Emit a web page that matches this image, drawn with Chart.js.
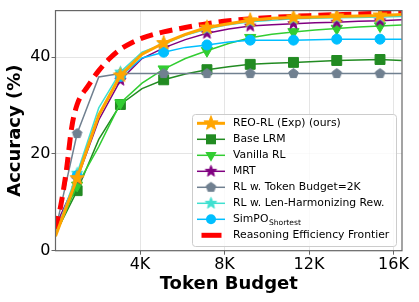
<!DOCTYPE html>
<html><head><meta charset="utf-8">
<script src="https://cdn.jsdelivr.net/npm/chart.js@4/dist/chart.umd.min.js"></script>
<style>html,body{margin:0;padding:0;background:#fff;}#wrap{width:419px;height:302px;}</style>
</head><body><div id="wrap"><canvas id="c" width="419" height="302"></canvas></div>
<script>
// ---- data ----
const budgets = [0,1024,2048,3072,4096,5120,6144,7168,8192,9216,10240,11264,12288,13312,14336,15360,16384];
const reoRL      = [3.0,15.0,28.0,36.2,40.6,42.9,44.7,46.1,46.9,47.6,48.0,48.2,48.3,48.4,48.5,48.6,48.8];
const baseLRM    = [3.5,12.4,23.0,30.2,33.5,35.3,36.5,37.4,38.0,38.5,38.7,38.9,39.1,39.3,39.4,39.5,39.3];
const vanillaRL  = [3.2,13.5,21.5,30.5,34.6,37.5,39.7,41.3,42.8,44.0,44.7,45.2,45.6,45.9,46.2,46.4,46.6];
const mrt        = [5.0,14.8,27.0,35.2,39.7,41.9,43.6,44.9,45.8,46.4,46.7,46.9,47.1,47.2,47.4,47.5,47.7];
const tokenBudget2K = [4.2,24.2,35.9,36.6,36.6,36.6,36.6,36.6,36.6,36.6,36.6,36.6,36.6,36.6,36.6,36.6,36.6];
const lenHarm    = [3.5,16.0,29.5,36.9,41.0,42.7,44.5,45.8,46.7,47.3,47.6,47.9,48.0,48.1,48.2,48.3,48.4];
const simpo      = [3.0,15.5,28.0,36.0,39.8,41.0,42.0,42.5,43.1,43.5,43.5,43.5,43.6,43.7,43.7,43.7,43.7];
const frontierBudgets = [0,256,512,768,1024,1536,2048,2560,3072,3584,4096,5120,6144,7168,8192,10240,12288,14336,16384];
const frontier   = [4.5,9.5,16.5,25.5,30.2,34.0,37.2,39.7,41.6,42.9,43.9,45.2,46.1,46.9,47.5,48.2,48.6,48.9,49.2];
const xTicks = [4000,8000,12000,16000];
const xTickLabels = ['4K','8K','12K','16K'];
const yTicks = [0,20,40];
const yTickLabels = ['0','20','40'];

const FONT = "'DejaVu Sans', sans-serif";

function polyCanvas(R, color, pts) {
  const s = Math.ceil(2*R+3);
  const c = document.createElement('canvas'); c.width = s; c.height = s;
  const g = c.getContext('2d');
  g.translate(s/2, s/2);
  g.beginPath();
  pts.forEach((p,i)=> i? g.lineTo(p[0],p[1]) : g.moveTo(p[0],p[1]));
  g.closePath();
  g.fillStyle = color; g.fill();
  g.strokeStyle = color; g.lineWidth = 1; g.lineJoin='miter'; g.stroke();
  return c;
}
function starCanvas(R, color) {
  const pts = []; const r = R*0.42;
  for (let i=0;i<10;i++){ const a = -Math.PI/2 + i*Math.PI/5; const rr = i%2? r: R; pts.push([rr*Math.cos(a), rr*Math.sin(a)]); }
  return polyCanvas(R, color, pts);
}
function pentCanvas(R, color) {
  const pts = [];
  for (let i=0;i<5;i++){ const a = -Math.PI/2 + i*2*Math.PI/5; pts.push([R*Math.cos(a), R*Math.sin(a)]); }
  return polyCanvas(R, color, pts);
}

const C = {
  reo:'#FFA500', base:'#228B22', van:'#32CD32', mrt:'#800080', tb:'#708090', lh:'#40E0D0', simpo:'#00BFFF', fr:'#FF0000'
};
const starOrange = starCanvas(7.5, C.reo);
const starPurple = starCanvas(6, C.mrt);
const starCyan = starCanvas(6, C.lh);
const pentGray = pentCanvas(5, C.tb);

function pts(xs, ys){ return xs.map((x,i)=>({x:x, y:ys[i]})); }
const every2 = r => (ctx => ctx.dataIndex % 2 === 1 ? r : 0);

const datasets = [
  {label:'REO-RL (Exp) (ours)', data:pts(budgets,reoRL), borderColor:C.reo, backgroundColor:C.reo, borderWidth:3, pointStyle:starOrange, pointRadius:every2(6), order:0},
  {label:'Base LRM', data:pts(budgets,baseLRM), borderColor:C.base, backgroundColor:C.base, borderWidth:1.5, pointStyle:'rect', pointRadius:every2(7), pointBorderWidth:1, order:7},
  {label:'Vanilla RL', data:pts(budgets,vanillaRL), borderColor:C.van, backgroundColor:C.van, borderWidth:1.5, pointStyle:'triangle', pointRotation:180, pointRadius:every2(6.5), pointBorderWidth:1, order:6},
  {label:'MRT', data:pts(budgets,mrt), borderColor:C.mrt, backgroundColor:C.mrt, borderWidth:1.5, pointStyle:starPurple, pointRadius:every2(5), order:5},
  {label:'RL w. Token Budget=2K', data:pts(budgets,tokenBudget2K), borderColor:C.tb, backgroundColor:C.tb, borderWidth:1.5, pointStyle:pentGray, pointRadius:every2(5), order:4},
  {label:'RL w. Len-Harmonizing Rew.', data:pts(budgets,lenHarm), borderColor:C.lh, backgroundColor:C.lh, borderWidth:1.5, pointStyle:starCyan, pointRadius:every2(5), order:3},
  {label:'SimPO', data:pts(budgets,simpo), borderColor:C.simpo, backgroundColor:C.simpo, borderWidth:1.5, pointStyle:'circle', pointRadius:every2(5), pointBorderWidth:1, order:2},
  {label:'Reasoning Efficiency Frontier', data:pts(frontierBudgets,frontier), borderColor:C.fr, backgroundColor:C.fr, borderWidth:5, borderDash:[13,7], pointRadius:0, cubicInterpolationMode:'monotone', order:1}
];

const framePlugin = {
  id:'frame',
  afterDatasetsDraw(chart){
    const a = chart.chartArea, g = chart.ctx;
    g.save(); g.strokeStyle = '#666'; g.lineWidth = 1.2;
    g.strokeRect(a.left, a.top, a.right-a.left, a.bottom-a.top);
    g.restore();
  }
};

const legendItems = [
  {text:'REO-RL (Exp) (ours)', color:C.reo, lw:3, marker:'img', img:starOrange},
  {text:'Base LRM', color:C.base, lw:1.5, marker:'rect', size:10},
  {text:'Vanilla RL', color:C.van, lw:1.5, marker:'tri', size:6.5},
  {text:'MRT', color:C.mrt, lw:1.5, marker:'img', img:starPurple},
  {text:'RL w. Token Budget=2K', color:C.tb, lw:1.5, marker:'img', img:pentGray},
  {text:'RL w. Len-Harmonizing Rew.', color:C.lh, lw:1.5, marker:'img', img:starCyan},
  {text:'SimPO', sub:'Shortest', color:C.simpo, lw:1.5, marker:'circle', size:5},
  {text:'Reasoning Efficiency Frontier', color:C.fr, lw:5, marker:'none', dash:true}
];

const legendPlugin = {
  id:'customLegend',
  afterDraw(chart){
    const g = chart.ctx;
    g.save();
    const bx=192.5, by=114.5, bw=204, bh=132, rr=3;
    g.beginPath();
    g.moveTo(bx+rr,by); g.lineTo(bx+bw-rr,by); g.arcTo(bx+bw,by,bx+bw,by+rr,rr);
    g.lineTo(bx+bw,by+bh-rr); g.arcTo(bx+bw,by+bh,bx+bw-rr,by+bh,rr);
    g.lineTo(bx+rr,by+bh); g.arcTo(bx,by+bh,bx,by+bh-rr,rr);
    g.lineTo(bx,by+rr); g.arcTo(bx,by,bx+rr,by,rr); g.closePath();
    g.fillStyle='rgba(255,255,255,0.8)'; g.fill();
    g.strokeStyle='#cccccc'; g.lineWidth=1; g.stroke();
    legendItems.forEach((it,i)=>{
      const y = 123.3 + i*16.0;
      const x0 = 197, x1 = 225, xm = 211;
      g.strokeStyle = it.color; g.fillStyle = it.color;
      g.lineWidth = it.lw;
      g.beginPath();
      if (it.dash) { g.moveTo(201.5,y); g.lineTo(221.5,y); }
      else { g.moveTo(x0,y); g.lineTo(x1,y); }
      g.stroke();
      g.lineWidth = 1;
      if (it.marker==='img') { g.drawImage(it.img, xm-it.img.width/2, y-it.img.height/2); }
      else if (it.marker==='rect') { g.fillRect(xm-it.size/2, y-it.size/2, it.size, it.size); }
      else if (it.marker==='circle') { g.beginPath(); g.arc(xm,y,it.size,0,Math.PI*2); g.fill(); }
      else if (it.marker==='tri') { const r=it.size; g.beginPath();
        for (let k=0;k<3;k++){ const a=Math.PI/2 + k*2*Math.PI/3; const px=xm+r*Math.cos(a), py=y+r*Math.sin(a); k? g.lineTo(px,py): g.moveTo(px,py);} g.closePath(); g.fill(); }
      g.fillStyle = '#000'; g.textBaseline='middle'; g.textAlign='left';
      g.font = '10.8px ' + FONT;
      g.fillText(it.text, 233, y);
      if (it.sub) {
        const w = g.measureText(it.text).width;
        g.font = '7.6px ' + FONT;
        g.fillText(it.sub, 233 + w + 0.5, y + 3.5);
      }
    });
    g.restore();
  }
};

new Chart(document.getElementById('c'), {
  type:'line',
  data:{datasets},
  options:{
    responsive:false, devicePixelRatio:1, animation:false,
    layout:{padding:{top:6.7, right:17, left:0, bottom:0}},
    plugins:{legend:{display:false}, tooltip:{enabled:false}},
    elements:{line:{tension:0, fill:false}},
    scales:{
      x:{type:'linear', min:0, max:16400,
        afterBuildTicks: s => { s.ticks = xTicks.map(v=>({value:v})); },
        afterFit: s => { s.height = 51.3; },
        ticks:{callback:(v,i)=>xTickLabels[i], font:{family:FONT, size:16}, color:'#000', padding:1, maxRotation:0, autoSkip:false},
        grid:{color:'rgba(0,0,0,0.1)', tickColor:'#666', tickLength:4, lineWidth:1},
        border:{display:false},
        title:{display:true, text:'Token Budget', font:{family:FONT, size:18, weight:'bold'}, color:'#000', padding:{top:0,bottom:7.2}}
      },
      y:{type:'linear', min:0, max:49.6,
        afterBuildTicks: s => { s.ticks = yTicks.map(v=>({value:v})); },
        afterFit: s => { s.width = 55.5; },
        ticks:{callback:(v,i)=>yTickLabels[i], font:{family:FONT, size:16}, color:'#000', padding:1},
        grid:{color:'rgba(0,0,0,0.1)', tickColor:'#666', tickLength:4, lineWidth:1},
        border:{display:false},
        title:{display:true, text:'Accuracy (%)', font:{family:FONT, size:18, weight:'bold'}, color:'#000', padding:{top:4.2,bottom:0}}
      }
    }
  },
  plugins:[framePlugin, legendPlugin]
});
</script></body></html>
